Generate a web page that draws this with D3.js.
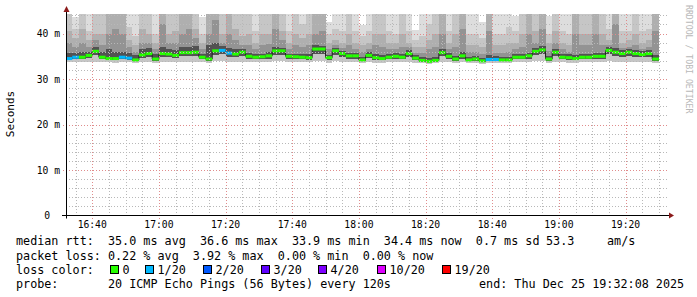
<!DOCTYPE html>
<html>
<head>
  <script src="https://cdnjs.cloudflare.com/ajax/libs/d3/7.8.5/d3.min.js" type="text/javascript"></script>
  <style>
    body { margin: 0; background: #fff; }
    text { font-family: "DejaVu Sans Mono", monospace; }
  </style>
</head>
<body>
  <svg id="chart" width="697" height="297"></svg>
  <script>

// one value per 120 s step, first step starts 16:32:00
var median = [34.5,34.8,34.8,35.2,36.1,34.8,34.5,34.5,34.8,34.6,
  34.2,35.3,35.6,34.4,35.6,35.5,35.2,35.8,35.8,35.9,
  34.8,34.4,36.2,36.3,35.7,35.5,35.9,35.0,34.8,34.9,
  35.1,36.2,36.2,35.0,34.9,34.8,34.7,36.6,36.6,34.7,
  36.2,35.6,35.1,35.1,34.2,35.2,34.7,34.5,34.8,35.0,
  34.8,35.6,34.6,34.1,33.9,34.1,35.8,35.0,34.4,35.1,
  34.2,34.4,34.0,34.3,34.3,34.2,34.2,34.8,34.8,35.1,
  36.1,36.4,34.4,35.9,34.8,34.7,34.5,34.8,34.8,35.0,
  35.0,36.3,35.9,35.6,35.9,35.6,35.4,35.6,34.4];

// lost pings out of 20
var loss = [1,1,0,0,0,0,0,0,1,1, 0,0,0,0,0,0,0,0,0,0,
  0,0,0,1,1,0,0,0,0,0, 0,0,0,0,0,0,0,0,0,0,
  0,0,0,0,0,0,0,0,0,0, 0,0,0,0,0,0,0,0,0,0,
  0,0,0,1,1,0,0,0,0,0, 0,0,0,0,0,0,0,0,0,0,
  0,0,0,0,0,0,0,0,0];

// smoke: upper edges of the grey bands (light -> dark), ms
var up1 = [50,43.7,52,48,50,49,56,58,55,46, 46,52,50,47,60,49,51,55,57,52,
  43.7,55,60,50,55,52,48,51,46,49, 50,56,51,47,50,48,50,55,56,42.6,
  47,46,51,47,41.8,47,51,50,46,46, 49,46,40.8,46,47,50,55,47,50,58,
  46,46,42.6,56,46,46,46,43.8,50,55, 50,56,43.9,51,46,46,55,50,50,55,
  50,47,58,47,47,50,46,47,56];
var up2 = [45,41,46,40.5,45,44.8,50,52,48,41.5, 39.5,45.5,45,40,55,44.6,45,49,50,46,
  40,48,54,45,48,46,44.5,45.5,40.5,44.8, 45,50,45.5,40.5,45,42,45,48,49,40,
  41,40.5,45,40.5,39.5,40.5,45,45,40.5,40, 44.8,40.5,38.5,39.5,42,44.8,48,40.5,45,52,
  40,40,39,50,40,40,41.5,40.5,45,48, 45,50,40,45,40.5,40,48,45,45,48,
  45,41,52,40.5,40.5,45,40.5,41,50];
var up3 = [40.5,39,41,38.5,40,40,45,46,44.6,38.5, 37.5,41,40,38,48,40,40.5,44.8,45,41,
  38,44.8,47,40,44.7,41,39.5,40,38,40, 40,45,40.5,38,40,39,40,44.5,45,38,
  38.5,38,40,38,37.5,38,40,40,38,38, 40,38,37,37,38.5,40,44.6,38,40,46,
  37.5,37.5,37,45,37.5,37.5,38,38,40,44.5, 40.5,45,38,40.5,38,37.5,44.6,40,40,44.5,
  40,38.5,46,38,38.5,40,38,38.5,45];
var up4 = [38,37,38,37,38.5,37.5,40,41,40,37, 36,38,38,36.5,42,38,38,40,41,39,
  36.5,40,43,38,40,38.5,37.5,37.5,36.5,37.5, 37.8,41,38.5,36.5,37.5,37,37.5,40,40.5,36.5,
  37.5,36.8,37.5,36.5,36,36.5,37.5,37,36.5,36.5, 37,37,35.8,35.8,36.5,37,40,36.5,37,41,
  36,36,35.5,40.5,35.8,35.8,36,36.5,37,40, 38,41,36.2,38,36.5,36,40,37.5,37.5,40,
  37.5,37.5,42,36.8,37,37.5,36.5,37,40.5];
var up5 = [35.8,35.8,36,36,37,35.9,36.5,36,36,35.8, 35.2,36.5,36.8,35.4,37,36.5,36.3,37,37,37.2,
  35.6,37.5,38,37.2,36.8,36.6,36.6,35.8,35.5,35.6, 35.9,37,36.9,35.6,35.5,35.5,35.5,37.4,37.3,35.3,
  36.8,36.2,35.8,35.8,34.9,35.9,35.4,35.2,35.5,35.7, 35.5,36.3,35.2,34.8,34.7,34.8,36.6,35.7,35.1,35.9,
  34.9,35.1,34.7,35.2,35,34.9,34.9,35.4,35.5,35.8, 36.8,37.2,35.1,36.6,35.5,35.4,35.2,35.5,35.5,35.7,
  35.7,37,36.8,36.3,36.6,36.3,36.1,36.3,35.3];
// lower edges: light bands / dark bands
var lo1 = [33.7,33.7,33.8,33.8,33.8,33.7,33.7,33.6,33.7,33.7, 33.6,33.8,33.8,33.6,33.8,33.8,33.8,33.8,33.8,33.8,
  33.7,33.6,33.9,33.9,33.8,33.8,33.8,33.7,33.7,33.7, 33.7,33.9,33.9,33.7,33.7,33.7,33.7,33.9,33.9,33.6,
  33.9,33.8,33.7,33.7,33.5,33.7,33.6,33.6,33.7,33.7, 33.7,33.8,33.6,33.5,33.4,33.5,33.8,33.7,33.6,33.7,
  33.5,33.6,33.4,33.6,33.6,33.5,33.5,33.7,33.7,33.7, 33.9,33.9,33.6,33.8,33.7,33.6,33.6,33.7,33.7,33.7,
  33.7,33.9,33.8,33.8,33.8,33.8,33.7,33.8,33.6];
var lo2 = [34.1,34.3,34.3,34.6,35.2,34.3,34.1,34.1,34.3,34.2, 33.9,34.7,34.9,34.0,34.9,34.8,34.6,35.0,35.0,35.1,
  34.3,34.0,35.3,35.4,34.9,34.8,35.0,34.5,34.3,34.4, 34.5,35.3,35.3,34.5,34.4,34.3,34.2,35.6,35.6,34.2,
  35.3,34.9,34.5,34.5,33.9,34.6,34.2,34.1,34.3,34.5, 34.3,34.9,34.2,33.8,33.7,33.8,35.0,34.5,34.0,34.5,
  33.9,34.0,33.7,33.9,33.9,33.9,33.9,34.3,34.3,34.5, 35.2,35.4,34.0,35.0,34.3,34.2,34.1,34.3,34.3,34.5,
  34.5,35.4,35.0,34.9,35.0,34.9,34.8,34.9,34.0];

var yTicks = [0, 10, 20, 30, 40];
var yTickLabels = ["0", "10 m", "20 m", "30 m", "40 m"];
var lossLevels = [0, 1, 2, 3, 4, 10, 19];
var lossLabels = ["0", "1/20", "2/20", "3/20", "4/20", "10/20", "19/20"];
var lossColors = ["#26ff00", "#00b8ff", "#0059ff", "#5e00ff", "#7e00ff", "#dd00ff", "#ff0000"];
var bandColors = ["#dddddd", "#c6c6c6", "#afafaf", "#939393", "#525252"];

var svg = d3.select("#chart");
var pLeft = 66, pRight = 666, pTop = 14, pBottom = 215.5;

var t0 = new Date(2025, 11, 25, 16, 32, 8);
var t1 = new Date(2025, 11, 25, 19, 32, 8);
var stepStart = new Date(2025, 11, 25, 16, 32, 0);
var times = median.map(function(d, i) { return new Date(+stepStart + i * 120000); });

var x = d3.scaleTime().domain([t0, t1]).range([pLeft, pRight]);
var y = d3.scaleLinear().domain([0, 44.3]).range([pBottom, pTop]);

svg.append("defs").append("clipPath").attr("id", "plot")
  .append("rect").attr("x", pLeft).attr("y", pTop).attr("width", pRight - pLeft).attr("height", pBottom - pTop);

var plot = svg.append("g").attr("clip-path", "url(#plot)");

function colX(i) { return x(times[i]); }
function colW(i) { return x(new Date(+times[i] + 120000)) - x(times[i]); }

// smoke bands
var bands = [[lo1, up1], [lo1, up2], [lo2, up3], [lo2, up4], [lo2, up5]];
bands.forEach(function(b, k) {
  plot.append("g").selectAll("rect").data(median).enter().append("rect")
    .attr("x", function(d, i) { return colX(i); })
    .attr("width", function(d, i) { return colW(i) + 0.05; })
    .attr("y", function(d, i) { return y(b[1][i]); })
    .attr("height", function(d, i) { return y(b[0][i]) - y(b[1][i]); })
    .attr("fill", bandColors[k])
    .attr("shape-rendering", "crispEdges");
});

// grid
var grid = svg.append("g").attr("shape-rendering", "crispEdges");
var minorY = d3.range(2, 44.3, 2).filter(function(v) { return v % 10 != 0; });
grid.selectAll(".ym").data(minorY).enter().append("line")
  .attr("x1", pLeft).attr("x2", pRight + 3)
  .attr("y1", function(d) { return Math.round(y(d)) + 0.5; })
  .attr("y2", function(d) { return Math.round(y(d)) + 0.5; })
  .attr("stroke", "#b8b8b8").attr("stroke-dasharray", "1,2");
var minorX = x.ticks(d3.timeMinute.every(5)).filter(function(d) { return d.getMinutes() % 20 != 0; });
grid.selectAll(".xm").data(minorX).enter().append("line")
  .attr("x1", function(d) { return Math.round(x(d)) + 0.5; })
  .attr("x2", function(d) { return Math.round(x(d)) + 0.5; })
  .attr("y1", pTop).attr("y2", pBottom)
  .attr("stroke", "#b8b8b8").attr("stroke-dasharray", "1,2");
grid.selectAll(".yM").data(yTicks.slice(1)).enter().append("line")
  .attr("x1", pLeft - 3).attr("x2", pRight + 3)
  .attr("y1", function(d) { return Math.round(y(d)) + 0.5; })
  .attr("y2", function(d) { return Math.round(y(d)) + 0.5; })
  .attr("stroke", "#e08c8c").attr("stroke-dasharray", "1,2");
var majorX = x.ticks(d3.timeMinute.every(20));
grid.selectAll(".xM").data(majorX).enter().append("line")
  .attr("x1", function(d) { return Math.round(x(d)) + 0.5; })
  .attr("x2", function(d) { return Math.round(x(d)) + 0.5; })
  .attr("y1", pTop).attr("y2", pBottom + 3)
  .attr("stroke", "#e08c8c").attr("stroke-dasharray", "1,2");

// median line + loss coloured bars
var stepPts = times.map(function(t, i) { return [colX(i), y(median[i])]; });
stepPts.push([colX(median.length - 1) + colW(median.length - 1), y(median[median.length - 1])]);
plot.append("path")
  .attr("d", d3.line().curve(d3.curveStepAfter)(stepPts))
  .attr("fill", "none").attr("stroke", "#202020").attr("stroke-width", 1);
plot.append("g").selectAll("rect").data(median).enter().append("rect")
  .attr("x", function(d, i) { return colX(i); })
  .attr("width", function(d, i) { return colW(i) + 0.05; })
  .attr("y", function(d) { return y(d) - 1.5; })
  .attr("height", 3)
  .attr("fill", function(d, i) { return lossColors[lossLevels.indexOf(loss[i])]; });

// axes
svg.append("line").attr("x1", pLeft - 4).attr("x2", pRight + 3).attr("y1", 215.5).attr("y2", 215.5).attr("stroke", "#000");
svg.append("line").attr("x1", pLeft + 0.5).attr("x2", pLeft + 0.5).attr("y1", pBottom + 3).attr("y2", 11).attr("stroke", "#000");
svg.append("path").attr("d", "M669,212.5 L674,215.5 L669,218.5 Z").attr("fill", "#8b1a1a");
svg.append("path").attr("d", "M63.5,12 L66.5,6 L69.5,12 Z").attr("fill", "#8b1a1a");

svg.append("g").selectAll("text").data(yTicks).enter().append("text")
  .attr("x", function(d) { return d == 0 ? 50 : 60; })
  .attr("y", function(d) { return y(d) + 3.5; })
  .attr("text-anchor", "end")
  .style("font-size", "9.7px")
  .text(function(d, i) { return yTickLabels[i]; });

svg.append("g").selectAll("text").data(majorX).enter().append("text")
  .attr("x", function(d) { return x(d); })
  .attr("y", 228)
  .attr("text-anchor", "middle")
  .style("font-size", "9.7px")
  .text(d3.timeFormat("%H:%M"));

svg.append("text").attr("transform", "translate(14,114) rotate(-90)")
  .attr("text-anchor", "middle").style("font-size", "11px").text("Seconds");

svg.append("text").attr("transform", "translate(685.5,5) rotate(90)")
  .style("font-size", "8.2px").attr("fill", "#b8b8b8").text("RRDTOOL / TOBI OETIKER");

// legend
var fs = "11.75px";
function legendText(xp, yp, s) {
  svg.append("text").attr("x", xp).attr("y", yp).style("font-size", fs)
    .attr("xml:space", "preserve").text(s);
}
legendText(16, 244.5, "median rtt:  35.0 ms avg  36.6 ms max  33.9 ms min  34.4 ms now  0.7 ms sd");
legendText(546, 244.5, "53.3");
legendText(607, 244.5, "am/s");

legendText(16, 259.5, "packet loss: 0.22 % avg  3.92 % max  0.00 % min  0.00 % now");

legendText(16, 273.5, "loss color:");
var boxX = [110, 145, 203, 261, 318, 377, 442];
lossLabels.forEach(function(l, i) {
  svg.append("rect").attr("x", boxX[i] + 0.5).attr("y", 265.5).attr("width", 8).attr("height", 8)
    .attr("fill", lossColors[i]).attr("stroke", "#000");
  legendText(boxX[i] + 12.5, 273.5, l);
});

legendText(16, 287.5, "probe:       20 ICMP Echo Pings (56 Bytes) every 120s");
legendText(479, 287.5, "end: Thu Dec 25 19:32:08 2025");
  </script>
</body>
</html>
